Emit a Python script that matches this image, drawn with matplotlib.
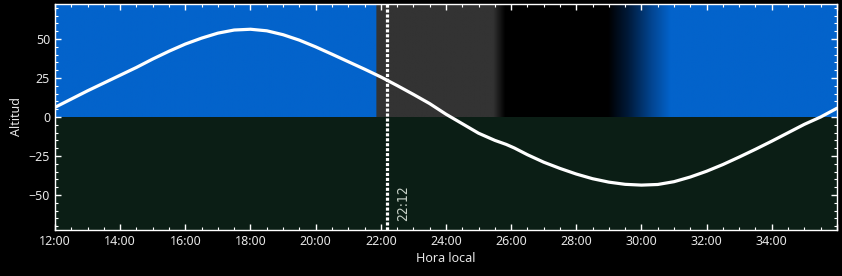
import matplotlib
matplotlib.use("Agg")
import matplotlib.pyplot as plt
import numpy as np
from matplotlib.ticker import MultipleLocator, FuncFormatter

# altitude curve (hours since midnight, degrees)
hours = [12.0, 12.5, 13.0, 13.5, 14.0, 14.5, 15.0, 15.5, 16.0, 16.5, 17.0, 17.5,
         18.0, 18.5, 19.0, 19.5, 20.0, 20.5, 21.0, 21.5, 22.0, 22.5, 23.0, 23.5,
         24.0, 24.5, 25.0, 25.5, 25.85, 26.1, 26.5, 27.0, 27.5, 28.0, 28.5, 29.0,
         29.5, 30.0, 30.5, 31.0, 31.5, 32.0, 32.5, 33.0, 33.5, 34.0, 34.5, 35.0,
         35.5, 36.0]
altitude = [6.2, 11.5, 16.8, 21.8, 26.8, 31.8, 37.2, 42.2, 46.8, 50.6, 53.8, 55.8,
            56.3, 55.3, 52.8, 49.3, 45.0, 40.3, 35.5, 30.7, 25.7, 20.2, 14.5, 8.6,
            1.8, -4.3, -10.4, -15.0, -17.6, -19.9, -24.2, -29.0, -33.0, -36.6, -39.6, -41.8,
            -43.2, -43.7, -43.3, -41.5, -38.5, -34.8, -30.5, -25.7, -20.7, -15.5, -10.1, -4.7,
            0.0, 5.6]

# sky colour above the horizon: key times and colours
sky_times = [12.0, 21.86, 21.87, 25.45, 25.82, 28.98, 29.6, 30.3, 30.9, 36.0]
sky_colors = ["#0363cb", "#0363cb", "#333333", "#333333", "#000000", "#000000",
              "#001a3a", "#02448f", "#0363cb", "#0363cb"]
ground_color = "#0b1e15"

now_hour = 22.2
now_label = "22:12"

fig = plt.figure(figsize=(8.42, 2.76), dpi=100, facecolor="black")
ax = fig.add_axes([0.0653, 0.1667, 0.9287, 0.8188])
ax.set_facecolor("black")

ymin, ymax = -72.5, 72.5
ax.set_xlim(12, 36)
ax.set_ylim(ymin, ymax)

# sky gradient strip
rgb = np.array([matplotlib.colors.to_rgb(c) for c in sky_colors])
cols = np.linspace(12, 36, 1200)
strip = np.stack([np.interp(cols, sky_times, rgb[:, i]) for i in range(3)], axis=-1)
ax.imshow(strip[np.newaxis, :, :], extent=[12, 36, 0, ymax], aspect="auto",
          interpolation="bilinear", zorder=0)
ax.axhspan(ymin, 0, color=ground_color, zorder=0.5, lw=0)

ax.plot(hours, altitude, color="white", lw=2.3, zorder=3,
        solid_capstyle="round", solid_joinstyle="round")

ax.axvline(now_hour, color="white", lw=2.3, linestyle=(0, (1, 0.55)), zorder=4)
ax.text(now_hour + 0.48, -55.5, now_label, rotation=90, ha="center", va="center",
        color="#c9d2c9", fontsize=10, family="DejaVu Sans", fontstretch="condensed",
        zorder=5)

ax.xaxis.set_major_locator(MultipleLocator(2))
ax.xaxis.set_minor_locator(MultipleLocator(0.5))
ax.xaxis.set_major_formatter(FuncFormatter(
    lambda v, p: "%d:00" % int(round(v)) if v < 35.9 else ""))
ax.yaxis.set_major_locator(MultipleLocator(25))
ax.yaxis.set_minor_locator(MultipleLocator(5))

ax.tick_params(which="both", direction="in", top=True, right=True, colors="white",
               labelcolor="#e6e6e6", labelsize=9)
ax.tick_params(which="major", length=4.5, width=1)
ax.tick_params(which="minor", length=2.5, width=0.8)
for lab in ax.get_xticklabels() + ax.get_yticklabels():
    lab.set_family("Noto Sans")
for s in ax.spines.values():
    s.set_color("white")
    s.set_linewidth(1)

ax.set_xlabel("Hora local", color="#e6e6e6", fontsize=9, family="Noto Sans", labelpad=3)
ax.set_ylabel("Altitud", color="#e6e6e6", fontsize=9, family="Noto Sans", labelpad=4)

fig.savefig("out.png", dpi=100, facecolor="black")
